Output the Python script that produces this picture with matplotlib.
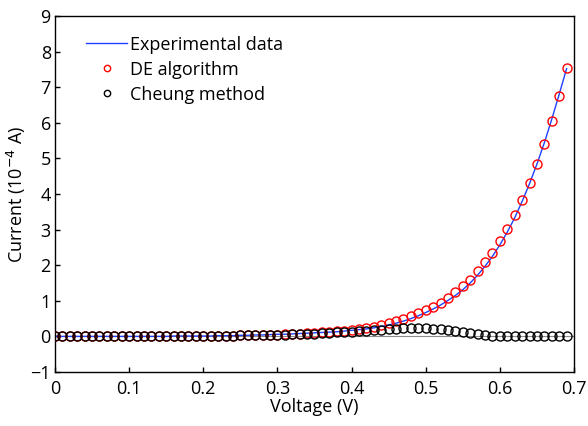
import matplotlib
matplotlib.use("Agg")
import matplotlib.pyplot as plt
import numpy as np

plt.rcParams['font.family'] = ['Open Sans', 'DejaVu Sans']

voltage = [round(0.01 * i, 2) for i in range(70)]

experimental = [0.00, 0.00, 0.00, 0.00, 0.00, 0.00, 0.00, 0.00, 0.00, 0.00,
                0.00, 0.00, 0.00, 0.00, 0.00, 0.00, 0.01, 0.01, 0.01, 0.01,
                0.01, 0.01, 0.02, 0.02, 0.02, 0.03, 0.03, 0.04, 0.04, 0.05,
                0.06, 0.06, 0.07, 0.08, 0.09, 0.10, 0.11, 0.12, 0.13, 0.15,
                0.17, 0.19, 0.21, 0.24, 0.28, 0.32, 0.37, 0.43, 0.50, 0.58,
                0.67, 0.77, 0.88, 1.01, 1.15, 1.31, 1.50, 1.72, 1.97, 2.25,
                2.57, 2.93, 3.33, 3.79, 4.29, 4.84, 5.44, 6.10, 6.80, 7.52]

de_algorithm = [0.00, 0.00, 0.00, 0.00, 0.00, 0.00, 0.00, 0.00, 0.00, 0.00,
                0.00, 0.00, 0.00, 0.00, 0.00, 0.00, 0.01, 0.01, 0.01, 0.01,
                0.01, 0.01, 0.02, 0.02, 0.02, 0.03, 0.03, 0.04, 0.04, 0.05,
                0.05, 0.06, 0.07, 0.08, 0.09, 0.10, 0.11, 0.12, 0.14, 0.16,
                0.18, 0.20, 0.23, 0.27, 0.32, 0.37, 0.42, 0.48, 0.56, 0.65,
                0.73, 0.82, 0.95, 1.09, 1.24, 1.41, 1.59, 1.83, 2.08, 2.35,
                2.67, 3.01, 3.40, 3.82, 4.31, 4.83, 5.40, 6.05, 6.74, 7.54]

cheung = [0.00, 0.00, 0.00, 0.00, 0.00, 0.00, 0.00, 0.00, 0.00, 0.00,
          0.00, 0.00, 0.00, 0.00, 0.00, 0.00, 0.00, 0.00, 0.00, 0.00,
          0.00, 0.01, 0.01, 0.02, 0.02, 0.03, 0.03, 0.03, 0.04, 0.04,
          0.05, 0.05, 0.06, 0.06, 0.07, 0.08, 0.09, 0.10, 0.11, 0.12,
          0.13, 0.15, 0.16, 0.18, 0.19, 0.21, 0.22, 0.23, 0.23, 0.23,
          0.23, 0.22, 0.20, 0.18, 0.15, 0.12, 0.10, 0.08, 0.05, 0.02,
          0.00, 0.00, 0.00, 0.00, 0.00, 0.00, 0.00, 0.00, 0.00, 0.00]

x_ticks = [0, 0.1, 0.2, 0.3, 0.4, 0.5, 0.6, 0.7]
x_tick_labels = ['0', '0.1', '0.2', '0.3', '0.4', '0.5', '0.6', '0.7']
y_ticks = list(range(-1, 10))

fig = plt.figure(figsize=(5.88, 4.26), dpi=100)
ax = fig.add_axes([0.0935, 0.1268, 0.8827, 0.8356])

ax.axhline(0, color='#8c8c8c', lw=0.8, zorder=1)
ax.plot(voltage, experimental, color='#1f3fff', lw=1.0, label='Experimental data', zorder=2)
ax.plot(voltage, de_algorithm, 'o', mfc='none', mec='red', ms=6.5, mew=1.0,
        label='DE algorithm', zorder=3)
ax.plot(voltage, cheung, 'o', mfc='none', mec='black', ms=6.5, mew=1.0,
        label='Cheung method', zorder=4)

ax.set_xlim(0, 0.7)
ax.set_ylim(-1, 9)
ax.set_xticks(x_ticks)
ax.set_xticklabels(x_tick_labels)
ax.set_yticks(y_ticks)
ax.tick_params(direction='in', labelsize=13, length=3.6, width=1)
ax.tick_params(axis='x', pad=6)
ax.tick_params(axis='y', pad=3)
for s in ax.spines.values():
    s.set_linewidth(1.0)

ax.set_xlabel('Voltage (V)', fontsize=13, labelpad=0)
ax.set_ylabel('Current (10$^{-4}$ A)', fontsize=13, labelpad=2)

leg = ax.legend(loc='upper left', frameon=False, fontsize=13, markerscale=0.7,
                handlelength=2.28, handletextpad=0.17, labelspacing=0.39,
                borderpad=0, borderaxespad=0,
                bbox_to_anchor=(0.06, 0.945))

fig.savefig('out.png', dpi=100)
